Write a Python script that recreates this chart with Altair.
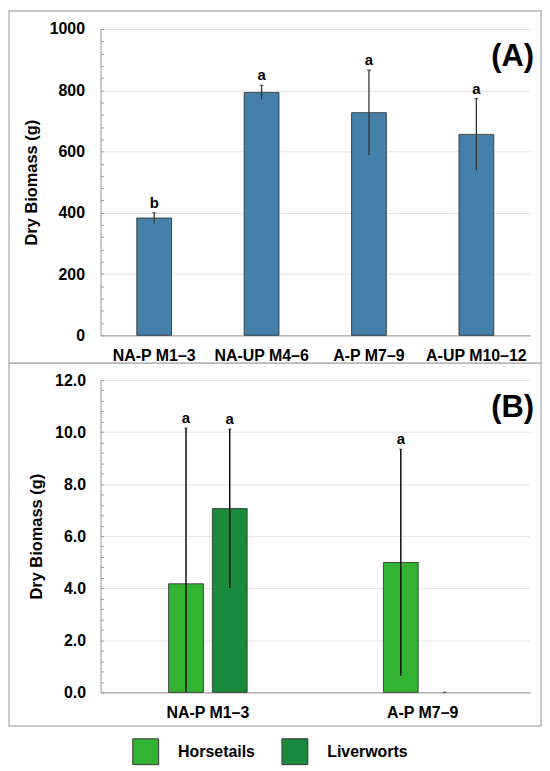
import altair as alt
import pandas as pd

FONT = "Liberation Sans"

# ---------------- Panel A data ----------------
a_groups = ["NA-P M1–3", "NA-UP M4–6", "A-P M7–9", "A-UP M10–12"]
a_means = [383, 793, 727, 656]
a_errors = [17, 23, 139, 117]
a_letters = ["b", "a", "a", "a"]
a_ticks = [0, 200, 400, 600, 800, 1000]
a_minor = list(range(0, 1001, 40))

# ---------------- Panel B data ----------------
b_groups = ["NA-P M1–3", "A-P M7–9"]
b_types = ["Horsetails", "Liverworts"]
b_group_col = ["NA-P M1–3", "NA-P M1–3", "A-P M7–9", "A-P M7–9"]
b_type_col = ["Horsetails", "Liverworts", "Horsetails", "Liverworts"]
b_means = [4.17, 7.06, 4.99, 0.0]
b_errors = [5.98, 3.05, 4.35, 0.0]
b_letters = ["a", "a", "a", ""]
b_ticks = [0, 2, 4, 6, 8, 10, 12]
b_minor = [round(i * 0.4, 1) for i in range(31)]
b_colors = ["#32b432", "#1a8a3c"]

W = 432
HA = 308
HB = 314

dfa = pd.DataFrame({"group": a_groups, "mean": a_means, "err": a_errors, "letter": a_letters})
dfa["lo"] = dfa["mean"] - dfa["err"]
dfa["hi"] = dfa["mean"] + dfa["err"]

dfb = pd.DataFrame({"group": b_group_col, "type": b_type_col, "mean": b_means,
                    "err": b_errors, "letter": b_letters})
dfb["lo"] = (dfb["mean"] - dfb["err"]).clip(lower=0)
dfb["hi"] = dfb["mean"] + dfb["err"]

x_axis = dict(title=None, labelAngle=0, ticks=False, tickSize=0, labelPadding=12,
              labelFontSize=16, labelFontWeight="bold", labelColor="black", labelFont=FONT,
              domainColor="#a6a6a6", domainWidth=1.2, grid=False)


def y_main(values, fmt, pad):
    return alt.Axis(orient="left", values=values, format=fmt, title="Dry Biomass (g)",
                    grid=True, gridColor="#e4e4e4", gridWidth=1, ticks=False, tickSize=0,
                    labelPadding=pad, labelFontSize=16, labelFontWeight="bold",
                    labelColor="black", labelFont=FONT, titleFontSize=16.5,
                    titleFontWeight="bold", titleColor="black", titleFont=FONT,
                    titlePadding=10, domainColor="#a6a6a6", domainWidth=1.2)


def y_minor(values):
    return alt.Axis(orient="left", values=values, labels=False, domain=False, grid=False,
                    ticks=True, tickSize=3, tickColor="#9a9a9a", tickWidth=1, offset=-3,
                    title=None)


def frame(y1, y2):
    return alt.Chart(pd.DataFrame({"k": [0]})).mark_rect(
        fillOpacity=0, stroke="#b8b8b8", strokeWidth=1.5
    ).encode(x=alt.value(-92), x2=alt.value(W + 11), y=alt.value(y1), y2=alt.value(y2))


def panel_label(txt, ypos):
    return alt.Chart(pd.DataFrame({"t": [txt]})).mark_text(
        fontSize=31, fontWeight="bold", align="right", baseline="alphabetic", font=FONT,
        color="black"
    ).encode(x=alt.value(W + 4), y=alt.value(ypos), text="t:N")


# ---------------- Panel A ----------------
xa = alt.X("group:N", sort=a_groups,
           scale=alt.Scale(paddingInner=0.676, paddingOuter=0.338), axis=alt.Axis(**x_axis))
ya_scale = alt.Scale(domain=[0, 1000], nice=False)

base_a = alt.Chart(dfa)
bars_a = base_a.mark_bar(color="#4580ab", stroke="#2a2a2a", strokeWidth=0.8).encode(
    x=xa, y=alt.Y("mean:Q", scale=ya_scale, axis=y_main(a_ticks, "d", 16)))
err_a = base_a.mark_rule(color="#333333", strokeWidth=1.3).encode(
    x=xa, y=alt.Y("lo:Q", scale=ya_scale, axis=y_minor(a_minor)), y2="hi:Q")
cap_a = base_a.mark_tick(color="#333333", size=4, thickness=1.3).encode(
    x=xa, y=alt.Y("hi:Q", scale=ya_scale, axis=None))
txt_a = base_a.mark_text(fontSize=15, fontWeight="bold", baseline="bottom", dy=-2,
                         font=FONT, color="black").encode(
    x=xa, y=alt.Y("hi:Q", scale=ya_scale, axis=None), text="letter:N")

chart_a = alt.layer(frame(-18, 336), bars_a, err_a, cap_a, txt_a, panel_label("(A)", 37)
                    ).resolve_axis(y="independent").properties(width=W, height=HA)

# ---------------- Panel B ----------------
xb = alt.X("group:N", sort=b_groups, scale=alt.Scale(paddingInner=0.4306, paddingOuter=0.2153),
           axis=alt.Axis(**x_axis))
xo = alt.XOffset("type:N", sort=b_types,
                 scale=alt.Scale(paddingInner=0.2045, paddingOuter=0.5))
yb_scale = alt.Scale(domain=[0, 12], nice=False)
color = alt.Color("type:N", sort=b_types,
                  scale=alt.Scale(domain=b_types, range=b_colors),
                  legend=alt.Legend(title=None, orient="none", direction="horizontal",
                                    legendX=32, legendY=713, symbolType="square",
                                    symbolSize=676, symbolStrokeColor="#333333",
                                    symbolStrokeWidth=1, symbolOpacity=1,
                                    labelFontSize=16, labelFontWeight="bold",
                                    labelColor="black", labelFont=FONT, labelOffset=19,
                                    columnPadding=24, padding=0))

base_b = alt.Chart(dfb)
bars_b = base_b.transform_filter("datum.mean > 0").mark_bar(
    stroke="#2a2a2a", strokeWidth=0.8, opacity=1).encode(
    x=xb, xOffset=xo, y=alt.Y("mean:Q", scale=yb_scale, axis=y_main(b_ticks, ".1f", 15)),
    color=color)
err_b = base_b.mark_rule(color="#111111", strokeWidth=1.5).encode(
    x=xb, xOffset=xo, y=alt.Y("lo:Q", scale=yb_scale, axis=y_minor(b_minor)), y2="hi:Q")
cap_b = base_b.mark_tick(color="#111111", size=3, thickness=1.3).encode(
    x=xb, xOffset=xo, y=alt.Y("hi:Q", scale=yb_scale, axis=None))
txt_b = base_b.mark_text(fontSize=15, fontWeight="bold", baseline="bottom", dy=-2,
                         font=FONT, color="black").encode(
    x=xb, xOffset=xo, y=alt.Y("hi:Q", scale=yb_scale, axis=None), text="letter:N")

chart_b = alt.layer(frame(-17, 348), bars_b, err_b, cap_b, txt_b, panel_label("(B)", 37)
                    ).resolve_axis(y="independent").properties(width=W, height=HB)

chart = alt.vconcat(chart_a, chart_b, spacing=45, bounds="flush").properties(
    padding=0, background="white"
).configure(font=FONT).configure_view(stroke=None)

chart.save("out.html", embed_options={"renderer": "svg", "actions": False})
